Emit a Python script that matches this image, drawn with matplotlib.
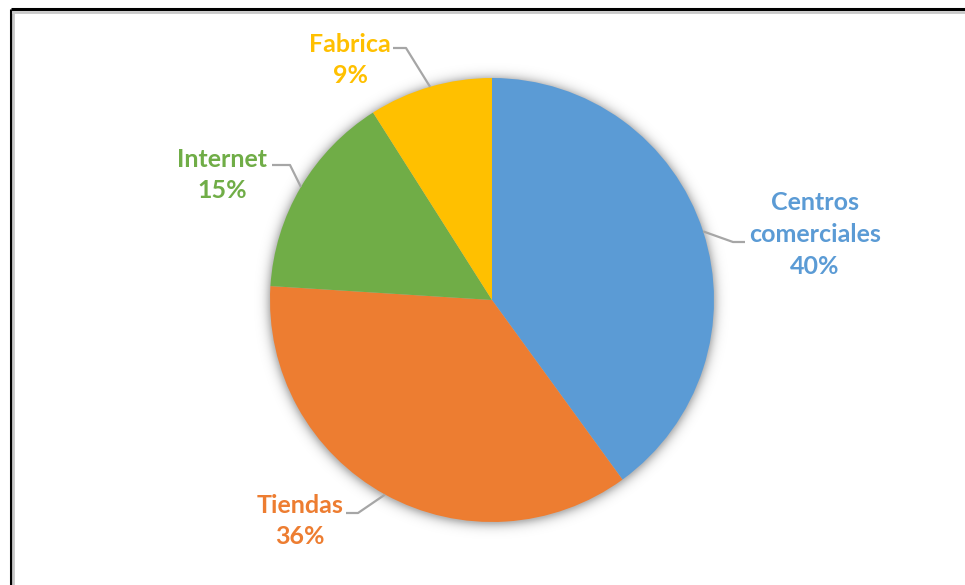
import numpy as np
import matplotlib
matplotlib.use("Agg")
import matplotlib.pyplot as plt

# Sales channel shares (percent), clockwise from 12 o'clock
categories = ["Centros\ncomerciales", "Tiendas", "Internet", "Fabrica"]
shares = [40, 36, 15, 9]
colors = ["#5B9BD5", "#ED7D31", "#70AD47", "#FFC000"]

W, H = 965, 585
fig = plt.figure(figsize=(W / 100, H / 100), dpi=100)
ax = fig.add_axes([0, 0, 1, 1])

cx, cy, R = 492, H - 300, 222

# soft shadow behind the pie
pad = 30
xs = np.arange(cx - R - pad, cx + R + pad + 1)
ys = np.arange(cy - R - pad, cy + R + pad + 1)
X, Y = np.meshgrid(xs, ys)
d = np.hypot(X - cx, Y - (cy - 1)) - R
alpha = np.where(d > 0, 0.28 * np.exp(-(d / 5.5) ** 1.3), 0.28)
rgba = np.zeros(X.shape + (4,))
rgba[..., 3] = alpha
ax.imshow(rgba, extent=(xs[0], xs[-1], ys[0], ys[-1]), origin="lower",
          interpolation="bilinear", zorder=1)

wedges, _ = ax.pie(shares, colors=colors, startangle=90, counterclock=False,
                   center=(cx, cy), radius=R, frame=True,
                   wedgeprops=dict(linewidth=0, zorder=2))
ax.set_xlim(0, W)
ax.set_ylim(0, H)
ax.set_aspect("equal")
ax.axis("off")

# label text centre, leader elbow and leader end, in pixels from top-left
label_pos = {
    "Centros\ncomerciales": ((815, 234.5), (733, 242), (745, 242)),
    "Tiendas": ((300, 521), (358, 513), (346, 513)),
    "Internet": ((222, 175), (290, 165), (272, 165)),
    "Fabrica": ((350, 60), (406, 48), (393, 48)),
}

for w, name, val, col in zip(wedges, categories, shares, colors):
    mid = np.deg2rad((w.theta1 + w.theta2) / 2)
    ex, ey = cx + R * np.cos(mid), cy + R * np.sin(mid)
    (tx, ty), (bx, by), (hx, hy) = label_pos[name]
    ax.plot([ex, bx, hx], [ey, H - by, H - hy], color="#A6A6A6", lw=1.6,
            solid_capstyle="butt", zorder=3)
    ax.text(tx, H - ty, f"{name}\n{val}%", color=col, fontsize=18,
            fontweight="bold", family="Lato", ha="center", va="center",
            linespacing=1.45, zorder=4)

# frame along the top and left edges
ax.plot([10.5, W], [H - 9, H - 9], color="black", lw=2.2, zorder=5,
        solid_capstyle="butt")
ax.plot([10.5, 10.5], [0, H - 9], color="black", lw=2.2, zorder=5,
        solid_capstyle="butt")
ax.plot([12.5, W], [H - 11.5, H - 11.5], color="#C8C8C8", lw=2, zorder=5)
ax.plot([12.5, 12.5], [0, H - 11.5], color="#C8C8C8", lw=2, zorder=5)

fig.savefig("out.png", dpi=100)
